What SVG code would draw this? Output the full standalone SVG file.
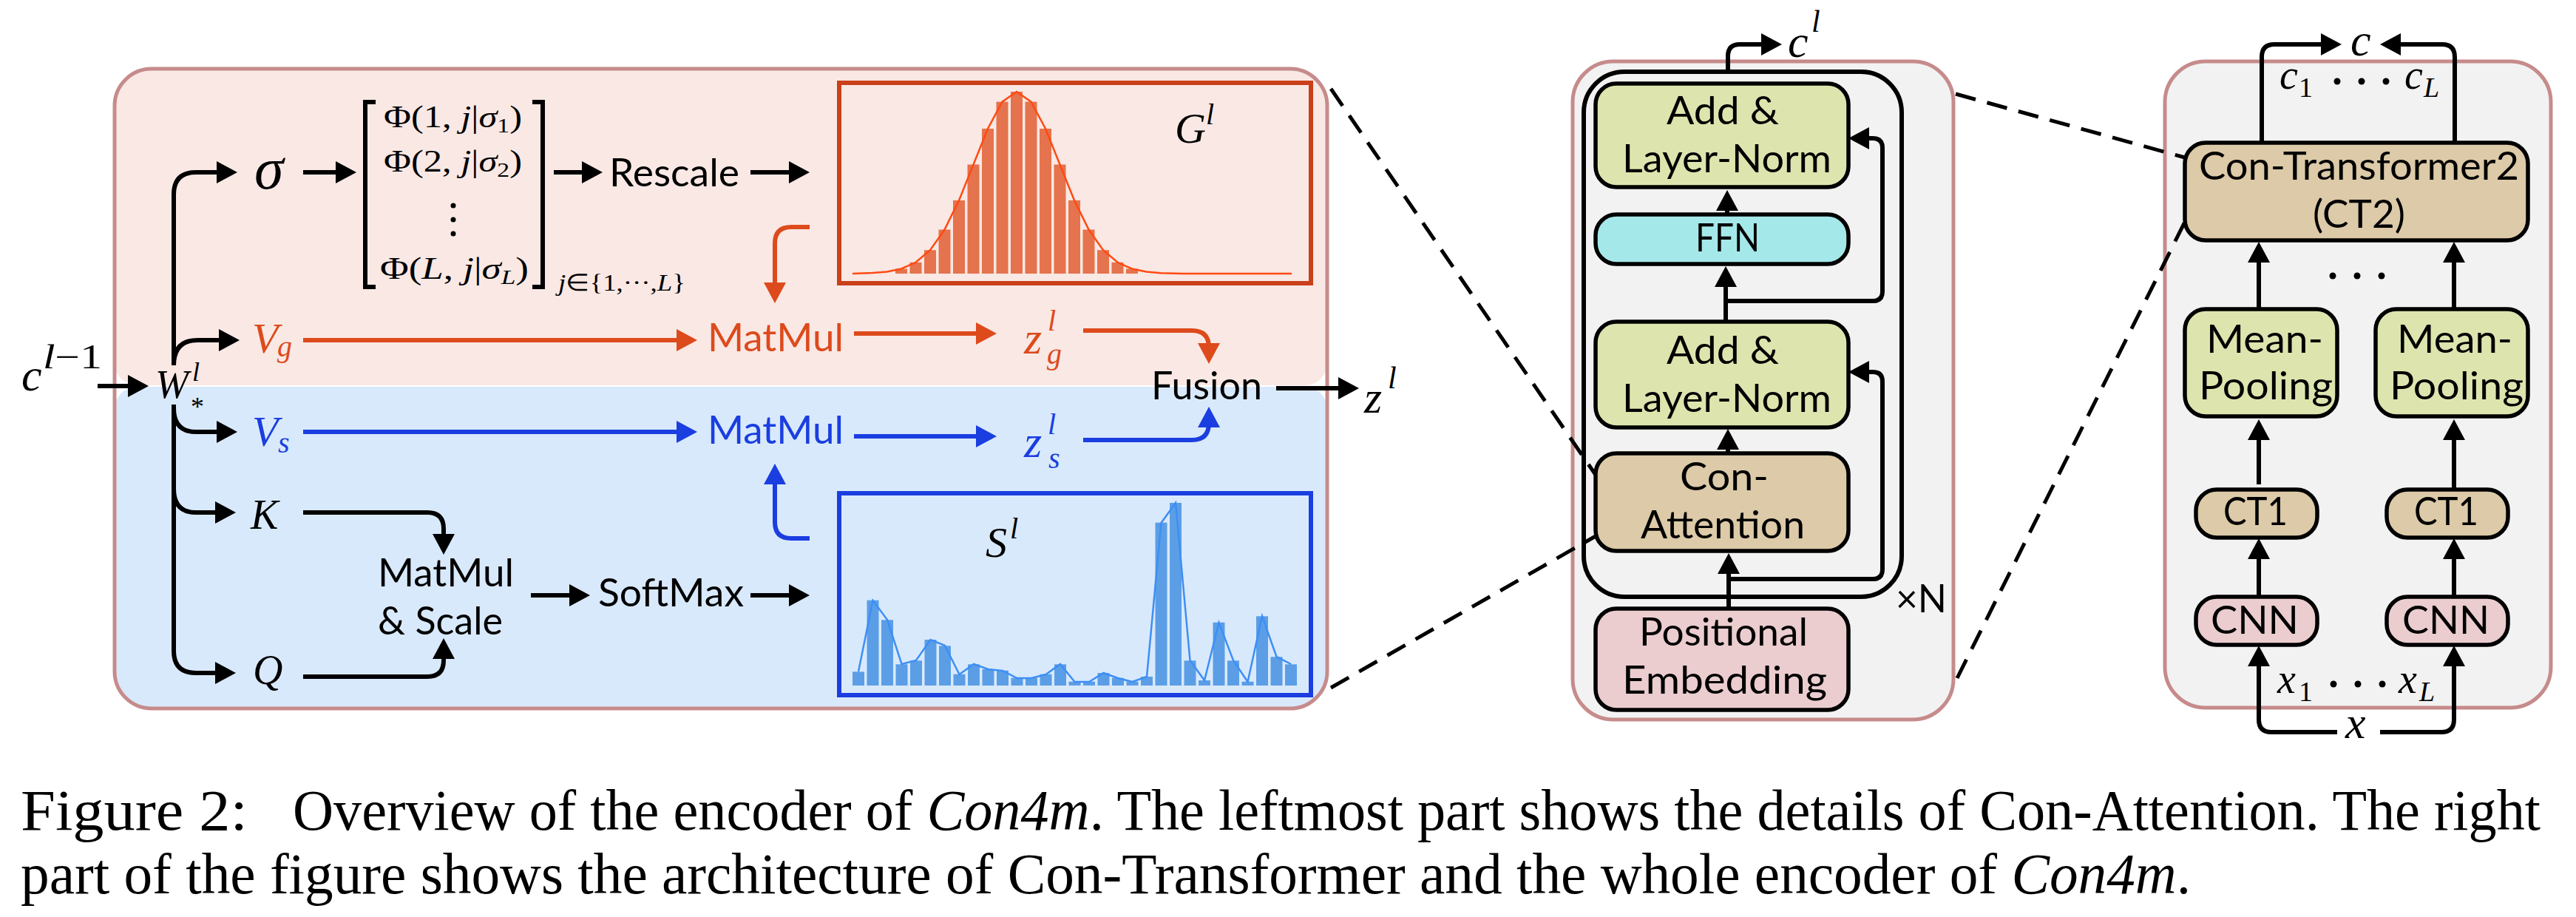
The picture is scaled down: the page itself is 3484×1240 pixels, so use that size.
<svg xmlns="http://www.w3.org/2000/svg" width="3484" height="1240" viewBox="0 0 3484 1240">
<style>
.sans{font-family:Lato,"Open Sans","Liberation Sans",sans-serif;font-size:52px;fill:#000}
.m{font-family:"Liberation Serif",serif;font-style:italic;fill:#000}
.r{font-family:"Liberation Serif",serif;font-style:normal}
.cap{font-family:"Liberation Serif",serif;font-size:78px;fill:#000}
.k{stroke:#000;stroke-width:6;fill:none}
.o{stroke:#dd4a1c;stroke-width:6;fill:none}
.b{stroke:#1a3ee0;stroke-width:6;fill:none}
.box{stroke:#000;stroke-width:5.5}
.green{fill:#dde4ae}.cyan{fill:#a5e8ea}.tan{fill:#dccaa8}.pink{fill:#ebcdcf}
.panel{fill:#f2f2f2;stroke:#c68b8b;stroke-width:5}
.dash{stroke:#000;stroke-width:5;stroke-dasharray:28 16;fill:none}
.oc{fill:#dd4a1c}.bc{fill:#1a3ee0}
</style>
<defs>
<marker id="ak" markerWidth="28" markerHeight="30" refX="22" refY="15" orient="auto" markerUnits="userSpaceOnUse"><path d="M0,0 L28,15 L0,30 Z" fill="#000"/></marker>
<marker id="ao" markerWidth="28" markerHeight="30" refX="22" refY="15" orient="auto" markerUnits="userSpaceOnUse"><path d="M0,0 L28,15 L0,30 Z" fill="#dd4a1c"/></marker>
<marker id="ab" markerWidth="28" markerHeight="30" refX="22" refY="15" orient="auto" markerUnits="userSpaceOnUse"><path d="M0,0 L28,15 L0,30 Z" fill="#1a3ee0"/></marker>
</defs>

<g id="left-panel">
<path d="M155,143 A50,50 0 0 1 205,93 H1745 A50,50 0 0 1 1795,143 V491 A30,30 0 0 1 1765,521 H185 A30,30 0 0 1 155,491 Z" fill="#f9e8e4"/>
<path d="M155,553 A30,30 0 0 1 185,523 H1765 A30,30 0 0 1 1795,553 V908 A50,50 0 0 1 1745,958 H205 A50,50 0 0 1 155,908 Z" fill="#d9e9fc"/>
<rect x="155" y="93" width="1640" height="865" rx="50" fill="none" stroke="#c68b8b" stroke-width="5"/>
</g>

<g id="middle-panel"><rect class="panel" x="2127" y="83" width="515" height="890" rx="55"/></g>
<g id="right-panel"><rect class="panel" x="2928" y="83" width="522" height="874" rx="55"/></g>

<g id="zoom-lines">
<line class="dash" x1="1800" y1="120" x2="2158" y2="642"/>
<line class="dash" x1="1800" y1="930" x2="2158" y2="725"/>
<line class="dash" x1="2645" y1="127" x2="2955" y2="213"/>
<line class="dash" x1="2647" y1="917" x2="2955" y2="300"/>
</g>

<g id="c-l-1"><text class="m" x="29" y="528" font-size="62">c</text><text class="m" x="58" y="498" font-size="46" textLength="80" lengthAdjust="spacingAndGlyphs">l<tspan class="r">−1</tspan></text></g>
<g id="W"><text class="m" x="210" y="538" font-size="54" textLength="45" lengthAdjust="spacingAndGlyphs">W</text><text class="m" x="260" y="515" font-size="36">l</text><text class="r" x="258" y="562" font-size="36" font-family="Liberation Serif">*</text></g>
<g id="sigma"><text class="m" x="344" y="255" font-size="80">σ</text></g>
<g id="matrix">
<path class="k" d="M508,138 H494 V388 H508 M720,138 H734 V388 H720" stroke-width="5"/>
<text class="r" x="519" y="172" font-size="42" textLength="187" lengthAdjust="spacingAndGlyphs">Φ(1, <tspan class="m">j</tspan>|<tspan class="m">σ</tspan><tspan font-size="28" dy="7">1</tspan><tspan dy="-7">)</tspan></text>
<text class="r" x="519" y="232" font-size="42" textLength="187" lengthAdjust="spacingAndGlyphs">Φ(2, <tspan class="m">j</tspan>|<tspan class="m">σ</tspan><tspan font-size="28" dy="7">2</tspan><tspan dy="-7">)</tspan></text>
<circle cx="613" cy="278" r="3.5"/><circle cx="613" cy="297" r="3.5"/><circle cx="613" cy="316" r="3.5"/>
<text class="r" x="514" y="377" font-size="42" textLength="201" lengthAdjust="spacingAndGlyphs">Φ(<tspan class="m">L</tspan>, <tspan class="m">j</tspan>|<tspan class="m">σ</tspan><tspan class="m" font-size="28" dy="7">L</tspan><tspan dy="-7">)</tspan></text>
<text class="r" x="755" y="393" font-size="32" textLength="172" lengthAdjust="spacingAndGlyphs"><tspan class="m">j</tspan>∈{1,···,<tspan class="m">L</tspan>}</text>
</g>
<g id="rescale"><text class="sans" x="824" y="252" textLength="176" lengthAdjust="spacingAndGlyphs">Rescale</text></g>
<g id="G">
<rect x="1135" y="112" width="638" height="271" fill="none" stroke="#c9401a" stroke-width="6"/>
<g fill="#e5734d">
<rect x="1211" y="363.5" width="16" height="6.5"/><rect x="1230.5" y="354.8" width="16" height="15.2"/><rect x="1250" y="338.2" width="16" height="31.8"/><rect x="1269.5" y="310.5" width="16" height="59.5"/><rect x="1289" y="270.9" width="16" height="99.1"/><rect x="1308.5" y="222.5" width="16" height="147.5"/><rect x="1328" y="174" width="16" height="196"/><rect x="1347.5" y="137.6" width="16" height="232.4"/><rect x="1367" y="124" width="16" height="246"/><rect x="1386.5" y="137.6" width="16" height="232.4"/><rect x="1406" y="174" width="16" height="196"/><rect x="1425.5" y="222.5" width="16" height="147.5"/><rect x="1445" y="270.9" width="16" height="99.1"/><rect x="1464.5" y="310.5" width="16" height="59.5"/><rect x="1484" y="338.2" width="16" height="31.8"/><rect x="1503.5" y="354.8" width="16" height="15.2"/><rect x="1523" y="363.5" width="16" height="6.5"/>
</g>
<polyline fill="none" stroke="#ff4a12" stroke-width="2.5" points="1153,370 1180,369 1199.5,367.5 1219,363.5 1238.5,354.8 1258,338.2 1277.5,310.5 1297,270.9 1316.5,222.5 1336,174 1355.5,137.6 1375,124 1394.5,137.6 1414,174 1433.5,222.5 1453,270.9 1472.5,310.5 1492,338.2 1511.5,354.8 1531,363.5 1550.5,367.5 1570,369.2 1600,370 1747,370"/>
<text class="m" x="1589" y="193" font-size="58">G</text><text class="m" x="1631" y="168" font-size="40">l</text>
</g>
<g id="Vg"><text class="m oc" x="341" y="477" font-size="58">V</text><text class="m oc" x="375" y="482" font-size="40">g</text></g>
<g id="matmul-g"><text class="sans oc" x="957" y="475" textLength="184" lengthAdjust="spacingAndGlyphs">MatMul</text></g>
<g id="zg"><text class="m oc" x="1385" y="478" font-size="62">z</text><text class="m oc" x="1417" y="447" font-size="40">l</text><text class="m oc" x="1416" y="492" font-size="40">g</text></g>
<g id="fusion"><text class="sans" x="1557" y="540" textLength="150" lengthAdjust="spacingAndGlyphs">Fusion</text></g>
<g id="zl"><text class="m" x="1845" y="558" font-size="62">z</text><text class="m" x="1877" y="525" font-size="42">l</text></g>
<g id="Vs"><text class="m bc" x="341" y="603" font-size="58">V</text><text class="m bc" x="376" y="612" font-size="40">s</text></g>
<g id="matmul-s"><text class="sans bc" x="957" y="600" textLength="184" lengthAdjust="spacingAndGlyphs">MatMul</text></g>
<g id="zs"><text class="m bc" x="1385" y="618" font-size="62">z</text><text class="m bc" x="1417" y="587" font-size="40">l</text><text class="m bc" x="1418" y="633" font-size="40">s</text></g>
<g id="K"><text class="m" x="339" y="715" font-size="56">K</text></g>
<g id="Q"><text class="m" x="342" y="925" font-size="56">Q</text></g>
<g id="matmul-scale"><text class="sans" x="511" y="793" textLength="184" lengthAdjust="spacingAndGlyphs">MatMul</text><text class="sans" x="511" y="858" textLength="169" lengthAdjust="spacingAndGlyphs">&amp; Scale</text></g>
<g id="softmax"><text class="sans" x="809" y="820" textLength="197" lengthAdjust="spacingAndGlyphs">SoftMax</text></g>
<g id="S">
<rect x="1135" y="667" width="638" height="273" fill="none" stroke="#1a3ee0" stroke-width="6"/>
<g fill="#5b9ee6">
<rect x="1153" y="908.3" width="16" height="18.7"/><rect x="1172.5" y="811.7" width="16" height="115.3"/><rect x="1192" y="838.3" width="16" height="88.7"/><rect x="1211.5" y="898.3" width="16" height="28.7"/><rect x="1231" y="893.3" width="16" height="33.7"/><rect x="1250.5" y="865" width="16" height="62"/><rect x="1270" y="873.3" width="16" height="53.7"/><rect x="1289.5" y="911.7" width="16" height="15.3"/><rect x="1309" y="898.3" width="16" height="28.7"/><rect x="1328.5" y="905" width="16" height="22"/><rect x="1348" y="906.7" width="16" height="20.3"/><rect x="1367.5" y="916.7" width="16" height="10.3"/><rect x="1387" y="916.7" width="16" height="10.3"/><rect x="1406.5" y="911.7" width="16" height="15.3"/><rect x="1426" y="898.3" width="16" height="28.7"/><rect x="1445.5" y="921.7" width="16" height="5.3"/><rect x="1465" y="921.7" width="16" height="5.3"/><rect x="1484.5" y="910" width="16" height="17"/><rect x="1504" y="916.7" width="16" height="10.3"/><rect x="1523.5" y="921.7" width="16" height="5.3"/><rect x="1543" y="915" width="16" height="12"/><rect x="1562.5" y="706.7" width="16" height="220.3"/><rect x="1582" y="680" width="16" height="247"/><rect x="1601.5" y="893.3" width="16" height="33.7"/><rect x="1621" y="920" width="16" height="7"/><rect x="1640.5" y="841.7" width="16" height="85.3"/><rect x="1660" y="893.3" width="16" height="33.7"/><rect x="1679.5" y="921.7" width="16" height="5.3"/><rect x="1699" y="833.3" width="16" height="93.7"/><rect x="1718.5" y="888.3" width="16" height="38.7"/><rect x="1738" y="898.3" width="16" height="28.7"/>
</g>
<polyline fill="none" stroke="#3d8ff5" stroke-width="2.5" points="1161,908 1180.5,812 1200,838 1219.5,898 1239,893 1258.5,865 1278,873 1297.5,912 1317,898 1336.5,905 1356,907 1375.5,917 1395,917 1414.5,912 1434,898 1453.5,922 1473,922 1492.5,910 1512,917 1531.5,922 1551,915 1570.5,707 1590,680 1609.5,893 1629,920 1648.5,842 1668,893 1687.5,922 1707,833 1726.5,888 1746,898"/>
<text class="m" x="1333" y="753" font-size="58">S</text><text class="m" x="1366" y="728" font-size="40">l</text>
</g>

<g id="block-loop"><rect x="2142" y="97" width="430" height="710" rx="55" fill="none" stroke="#000" stroke-width="6"/></g>
<g id="addnorm1"><rect class="box green" x="2158" y="113" width="342" height="140" rx="28"/><text class="sans" x="2254" y="168" textLength="152" lengthAdjust="spacingAndGlyphs">Add &amp;</text><text class="sans" x="2194" y="233" textLength="283" lengthAdjust="spacingAndGlyphs">Layer-Norm</text></g>
<g id="ffn"><rect class="box cyan" x="2158" y="290" width="342" height="67" rx="28"/><text class="sans" x="2293" y="340" textLength="87" lengthAdjust="spacingAndGlyphs">FFN</text></g>
<g id="addnorm2"><rect class="box green" x="2158" y="435" width="342" height="143" rx="28"/><text class="sans" x="2254" y="492" textLength="152" lengthAdjust="spacingAndGlyphs">Add &amp;</text><text class="sans" x="2194" y="557" textLength="283" lengthAdjust="spacingAndGlyphs">Layer-Norm</text></g>
<g id="con-attention"><rect class="box tan" x="2158" y="613" width="342" height="132" rx="28"/><text class="sans" x="2272" y="663" textLength="120" lengthAdjust="spacingAndGlyphs">Con-</text><text class="sans" x="2219" y="728" textLength="222" lengthAdjust="spacingAndGlyphs">Attention</text></g>
<g id="pos-emb"><rect class="box pink" x="2158" y="823" width="342" height="137" rx="28"/><text class="sans" x="2217" y="873" textLength="228" lengthAdjust="spacingAndGlyphs">Positional</text><text class="sans" x="2194" y="938" textLength="277" lengthAdjust="spacingAndGlyphs">Embedding</text></g>
<g id="xN"><text class="sans" x="2564" y="828" font-size="46" textLength="69" lengthAdjust="spacingAndGlyphs">×N</text></g>
<g id="cl"><text class="m" x="2418" y="77" font-size="62">c</text><text class="m" x="2450" y="43" font-size="42">l</text></g>

<g id="ct2"><rect class="box tan" x="2955" y="193" width="464" height="132" rx="28"/><text class="sans" x="2974" y="243" textLength="433" lengthAdjust="spacingAndGlyphs">Con-Transformer2</text><text class="sans" x="3128" y="308" textLength="125" lengthAdjust="spacingAndGlyphs">(CT2)</text></g>
<g id="mp1"><rect class="box green" x="2955" y="418" width="206" height="145" rx="28"/><text class="sans" x="2984" y="477" textLength="158" lengthAdjust="spacingAndGlyphs">Mean-</text><text class="sans" x="2974" y="540" textLength="181" lengthAdjust="spacingAndGlyphs">Pooling</text></g>
<g id="mp2"><rect class="box green" x="3213" y="418" width="206" height="145" rx="28"/><text class="sans" x="3242" y="477" textLength="156" lengthAdjust="spacingAndGlyphs">Mean-</text><text class="sans" x="3232" y="540" textLength="181" lengthAdjust="spacingAndGlyphs">Pooling</text></g>
<g id="ct1a"><rect class="box tan" x="2970" y="662" width="164" height="65" rx="28"/><text class="sans" x="3007" y="710" textLength="87" lengthAdjust="spacingAndGlyphs">CT1</text></g>
<g id="ct1b"><rect class="box tan" x="3228" y="662" width="164" height="65" rx="28"/><text class="sans" x="3265" y="710" textLength="87" lengthAdjust="spacingAndGlyphs">CT1</text></g>
<g id="cnn1"><rect class="box pink" x="2970" y="807" width="164" height="65" rx="28"/><text class="sans" x="2990" y="857" textLength="119" lengthAdjust="spacingAndGlyphs">CNN</text></g>
<g id="cnn2"><rect class="box pink" x="3228" y="807" width="164" height="65" rx="28"/><text class="sans" x="3249" y="857" textLength="118" lengthAdjust="spacingAndGlyphs">CNN</text></g>
<g id="c-out"><text class="m" x="3179" y="75" font-size="62">c</text></g>
<g id="c-seq"><text class="m" x="3083" y="120" font-size="56">c</text><text class="r" x="3109" y="131" font-size="38" font-family="Liberation Serif">1</text>
<circle cx="3161" cy="110" r="4.5"/><circle cx="3194" cy="110" r="4.5"/><circle cx="3227" cy="110" r="4.5"/>
<text class="m" x="3252" y="120" font-size="56">c</text><text class="m" x="3278" y="131" font-size="38">L</text></g>
<g id="dots-mid"><circle cx="3155" cy="373" r="4.5"/><circle cx="3188" cy="373" r="4.5"/><circle cx="3221" cy="373" r="4.5"/></g>
<g id="x-seq"><text class="m" x="3080" y="937" font-size="56">x</text><text class="r" x="3109" y="948" font-size="38" font-family="Liberation Serif">1</text>
<circle cx="3156" cy="925" r="4.5"/><circle cx="3189" cy="925" r="4.5"/><circle cx="3222" cy="925" r="4.5"/>
<text class="m" x="3244" y="937" font-size="56">x</text><text class="m" x="3272" y="948" font-size="38">L</text></g>
<g id="x-in"><text class="m" x="3172" y="998" font-size="62">x</text></g>

<g id="connectors">
<path class="k" marker-end="url(#ak)" d="M132,522 H195"/>
<path class="k" marker-end="url(#ak)" d="M235,492 V263 Q235,233 265,233 H315"/>
<path class="k" marker-end="url(#ak)" d="M235,494 Q235,460 267,460 H318"/>
<path class="k" marker-end="url(#ak)" d="M235,547 V880 Q235,910 265,910 H313"/>
<path class="k" marker-end="url(#ak)" d="M235,552 Q235,584 265,584 H315"/>
<path class="k" marker-end="url(#ak)" d="M235,661 Q235,693 265,693 H313"/>
<path class="k" marker-end="url(#ak)" d="M410,233 H476"/>
<path class="k" marker-end="url(#ak)" d="M749,233 H809"/>
<path class="k" marker-end="url(#ak)" d="M1015,233 H1089"/>
<path class="o" marker-end="url(#ao)" d="M1095,307 H1070 Q1048,307 1048,329 V404"/>
<path class="o" marker-end="url(#ao)" d="M410,460 H937"/>
<path class="o" marker-end="url(#ao)" d="M1155,451 H1342"/>
<path class="o" marker-end="url(#ao)" d="M1465,447 H1612 Q1635,447 1635,470 V486"/>
<path class="b" marker-end="url(#ab)" d="M410,584 H937"/>
<path class="b" marker-end="url(#ab)" d="M1155,590 H1342"/>
<path class="b" marker-end="url(#ab)" d="M1465,595 H1612 Q1635,595 1635,572 V556"/>
<path class="b" marker-end="url(#ab)" d="M1095,728 H1070 Q1048,728 1048,706 V633"/>
<path class="k" marker-end="url(#ak)" d="M1726,525 H1832"/>
<path class="k" marker-end="url(#ak)" d="M410,693 H578 Q600,693 600,715 V744"/>
<path class="k" marker-end="url(#ak)" d="M410,915 H578 Q600,915 600,893 V869"/>
<path class="k" marker-end="url(#ak)" d="M718,805 H792"/>
<path class="k" marker-end="url(#ak)" d="M1015,805 H1089"/>
<path class="k" marker-end="url(#ak)" d="M2338,823 V754"/>
<path class="k" marker-end="url(#ak)" d="M2338,783 H2533 Q2546,783 2546,770 V516 Q2546,503 2533,503 H2506"/>
<path class="k" marker-end="url(#ak)" d="M2337,613 V586"/>
<path class="k" marker-end="url(#ak)" d="M2334,435 V366"/>
<path class="k" marker-end="url(#ak)" d="M2334,407 H2533 Q2546,407 2546,394 V200 Q2546,187 2533,187 H2506"/>
<path class="k" marker-end="url(#ak)" d="M2336,290 V263"/>
<path class="k" marker-end="url(#ak)" d="M2337,97 V76 Q2337,60 2353,60 H2404"/>
<path class="k" marker-end="url(#ak)" d="M3055,418 V333"/>
<path class="k" marker-end="url(#ak)" d="M3319,418 V333"/>
<path class="k" marker-end="url(#ak)" d="M3055,655 V573"/>
<path class="k" marker-end="url(#ak)" d="M3319,662 V573"/>
<path class="k" marker-end="url(#ak)" d="M3055,807 V734"/>
<path class="k" marker-end="url(#ak)" d="M3319,807 V734"/>
<path class="k" marker-end="url(#ak)" d="M3161,990 H3072 Q3055,990 3055,973 V879"/>
<path class="k" marker-end="url(#ak)" d="M3219,990 H3302 Q3319,990 3319,973 V879"/>
<path class="k" marker-end="url(#ak)" d="M3059,193 V77 Q3059,60 3076,60 H3161"/>
<path class="k" marker-end="url(#ak)" d="M3320,193 V77 Q3320,60 3303,60 H3225"/>
</g>

<g id="caption">
<text class="cap" x="28" y="1122" textLength="307" lengthAdjust="spacingAndGlyphs">Figure 2:</text>
<text class="cap" x="396" y="1122" textLength="3040" lengthAdjust="spacingAndGlyphs">Overview of the encoder of <tspan font-style="italic">Con4m</tspan>. The leftmost part shows the details of Con-Attention. The right</text>
<text class="cap" x="28" y="1208" textLength="2935" lengthAdjust="spacingAndGlyphs">part of the figure shows the architecture of Con-Transformer and the whole encoder of <tspan font-style="italic">Con4m</tspan>.</text>
</g>
</svg>
